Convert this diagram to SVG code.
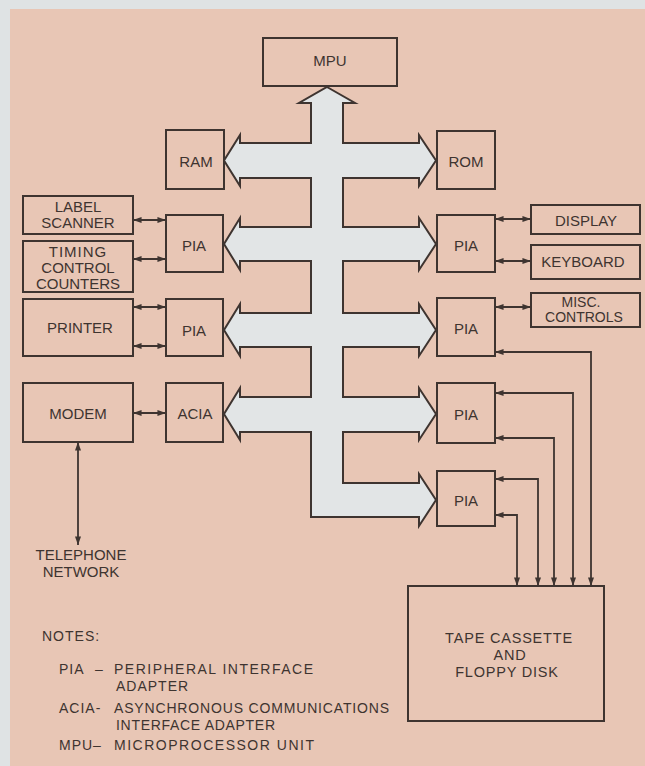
<svg xmlns="http://www.w3.org/2000/svg" width="645" height="766" viewBox="0 0 645 766">
<defs>
<style>
.bg{fill:#e8c6b5}
.box{fill:#e8c6b5;stroke:#3e3430;stroke-width:2}
.bus{fill:#e2e5e6;stroke:#3e3430;stroke-width:2;stroke-linejoin:miter}
.lbl{font-family:"Liberation Sans",Arial,sans-serif;font-size:15px;fill:#3e3430;text-anchor:middle}
.sm{font-size:14px}
.note{font-family:"Liberation Sans",Arial,sans-serif;font-size:14px;fill:#3e3430;letter-spacing:1px}
.tape{font-family:"Liberation Sans",Arial,sans-serif;font-size:14.5px;fill:#3e3430;text-anchor:middle;letter-spacing:0.8px}
.wire{fill:none;stroke:#3e3430;stroke-width:1.8;marker-start:url(#ah);marker-end:url(#ah)}
</style>
<marker id="ah" viewBox="0 0 10 7" refX="10" refY="3.5" markerWidth="9" markerHeight="6" markerUnits="userSpaceOnUse" orient="auto-start-reverse">
<path d="M0,0 L10,3.5 L0,7 z" fill="#3e3430"/>
</marker>
</defs>
<rect x="0" y="0" width="645" height="766" fill="#dfe3e4"/>
<rect class="bg" x="10" y="9" width="635" height="757"/>

<g id="bus">
<polygon class="bus" points="327,87 355,103 343,103 343,143 419,143 419,135 436,160.5 419,186 419,178 343,178 343,227 419,227 419,218 436,244 419,270 419,261 343,261 343,313 419,313 419,304 436,330 419,356 419,347 343,347 343,397 419,397 419,388 436,414 419,440 419,432 343,432 343,483 419,483 419,474 436,500 419,526 419,517 311,517 311,432 240,432 240,440 224,414 240,388 240,397 311,397 311,347 240,347 240,356 224,330 240,304 240,313 311,313 311,261 240,261 240,270 224,244 240,218 240,227 311,227 311,178 240,178 240,186 224,160.5 240,135 240,143 311,143 311,103 299,103"/>
</g>

<g id="connectors">
<path class="wire" d="M133,220 H166"/>
<path class="wire" d="M133,259 H166"/>
<path class="wire" d="M133,307 H166"/>
<path class="wire" d="M133,346 H166"/>
<path class="wire" d="M133,413 H166"/>
<path class="wire" d="M495,219 H531"/>
<path class="wire" d="M495,261 H531"/>
<path class="wire" d="M495,307 H531"/>
<path class="wire" d="M495,352 H591 V586"/>
<path class="wire" d="M495,393 H573 V586"/>
<path class="wire" d="M495,438 H554 V586"/>
<path class="wire" d="M495,479 H538 V586"/>
<path class="wire" d="M495,515 H517 V586"/>
<path class="wire" d="M78,442 V545"/>
</g>

<g id="mpu"><rect class="box" x="263" y="38" width="134" height="48"/><text class="lbl" x="330" y="66">MPU</text></g>
<g id="ram"><rect class="box" x="166" y="130" width="58" height="59"/><text class="lbl" x="196" y="167">RAM</text></g>
<g id="rom"><rect class="box" x="437" y="131" width="58" height="58"/><text class="lbl" x="466" y="167">ROM</text></g>

<g id="label-scanner"><rect class="box" x="23" y="196" width="110" height="38"/><text class="lbl" x="78" y="212">LABEL</text><text class="lbl" x="78" y="228">SCANNER</text></g>
<g id="timing"><rect class="box" x="23" y="241" width="110" height="51"/><text class="lbl" x="78" y="257" letter-spacing="1">TIMING</text><text class="lbl" x="78" y="273">CONTROL</text><text class="lbl" x="78" y="289">COUNTERS</text></g>
<g id="printer"><rect class="box" x="23" y="299" width="110" height="57"/><text class="lbl" x="80" y="333">PRINTER</text></g>
<g id="modem"><rect class="box" x="23" y="383" width="110" height="59"/><text class="lbl" x="78" y="419">MODEM</text></g>

<g id="pia-l1"><rect class="box" x="166" y="215" width="57" height="57"/><text class="lbl" x="194" y="251">PIA</text></g>
<g id="pia-l2"><rect class="box" x="166" y="299" width="57" height="57"/><text class="lbl" x="194" y="336">PIA</text></g>
<g id="acia"><rect class="box" x="166" y="383" width="57" height="59"/><text class="lbl" x="195" y="419">ACIA</text></g>

<g id="pia-r1"><rect class="box" x="437" y="215" width="58" height="57"/><text class="lbl" x="466" y="251">PIA</text></g>
<g id="pia-r2"><rect class="box" x="437" y="298" width="58" height="58"/><text class="lbl" x="466" y="334">PIA</text></g>
<g id="pia-r3"><rect class="box" x="437" y="383" width="58" height="60"/><text class="lbl" x="466" y="420">PIA</text></g>
<g id="pia-r4"><rect class="box" x="437" y="471" width="58" height="55"/><text class="lbl" x="466" y="506">PIA</text></g>

<g id="display"><rect class="box" x="531" y="205" width="109" height="29"/><text class="lbl" x="586" y="226">DISPLAY</text></g>
<g id="keyboard"><rect class="box" x="531" y="245" width="109" height="34"/><text class="lbl" x="583" y="267">KEYBOARD</text></g>
<g id="misc"><rect class="box" x="531" y="293" width="109" height="34"/><text class="lbl sm" x="581" y="307">MISC.</text><text class="lbl sm" x="584" y="322">CONTROLS</text></g>

<g id="tape"><rect class="box" x="408" y="586" width="196" height="135"/>
<text class="tape" x="509" y="643">TAPE CASSETTE</text><text class="tape" x="510" y="660">AND</text><text class="tape" x="507" y="677">FLOPPY DISK</text></g>

<g id="telephone"><text class="lbl" x="81" y="560">TELEPHONE</text><text class="lbl" x="81" y="577">NETWORK</text></g>

<g id="notes">
<text class="note" x="42" y="641">NOTES:</text>
<text class="note" x="59" y="674">PIA</text><text class="note" x="95" y="674">–</text>
<text class="note" x="114" y="674" textLength="200" lengthAdjust="spacing">PERIPHERAL INTERFACE</text>
<text class="note" x="116" y="691">ADAPTER</text>
<text class="note" x="59" y="713">ACIA-</text>
<text class="note" x="114" y="713" textLength="276" lengthAdjust="spacing">ASYNCHRONOUS COMMUNICATIONS</text>
<text class="note" x="116" y="730" textLength="160" lengthAdjust="spacing">INTERFACE ADAPTER</text>
<text class="note" x="59" y="750">MPU–</text>
<text class="note" x="114" y="750" textLength="201" lengthAdjust="spacing">MICROPROCESSOR UNIT</text>
</g>
</svg>
